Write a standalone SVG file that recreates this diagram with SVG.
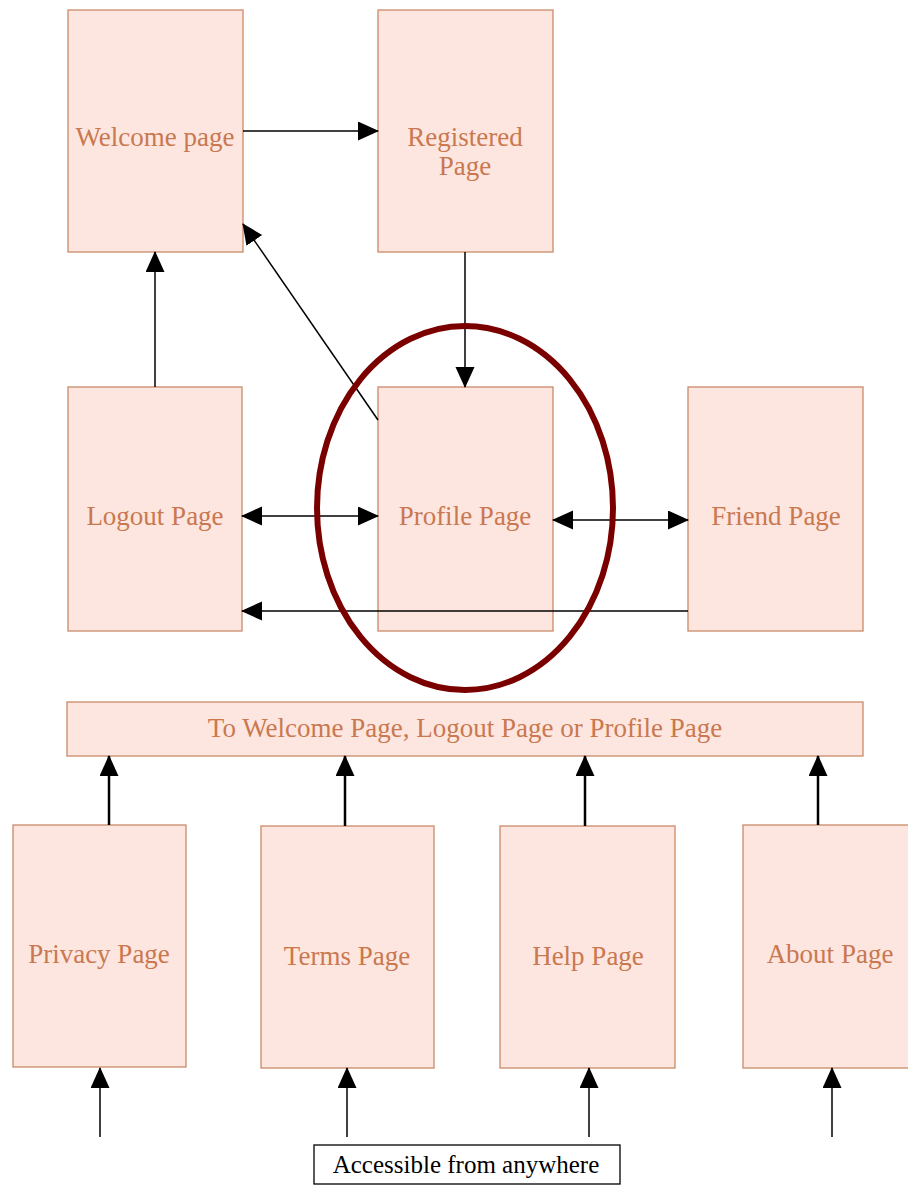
<svg xmlns="http://www.w3.org/2000/svg" width="908" height="1185" viewBox="0 0 908 1185">
<style>
.box{fill:#fde6df;stroke:#c98a68;stroke-width:1.3}
.lbl{font-family:"Liberation Serif","Times New Roman",serif;font-size:27px;fill:#c97850;text-anchor:middle}
.ln{stroke:#000;stroke-width:1.5;fill:none}
.thk{stroke:#000;stroke-width:2.5;fill:none}
.note{font-family:"Liberation Serif","Times New Roman",serif;font-size:25px;fill:#000;text-anchor:middle}
</style>
<defs>
<marker id="ah" markerUnits="userSpaceOnUse" markerWidth="22" markerHeight="20" refX="20" refY="9.5" orient="auto-start-reverse" viewBox="0 0 22 20">
<path d="M0,0 L21,9.5 L0,19 z" fill="#000"/>
</marker>
</defs>
<rect width="908" height="1185" fill="#fff"/>
<g id="welcome"><rect class="box" x="68" y="10" width="175" height="242"/><text class="lbl" x="155" y="146">Welcome page</text></g>
<g id="registered"><rect class="box" x="378" y="10" width="175" height="242"/><text class="lbl" x="465" y="146">Registered</text><text class="lbl" x="465" y="175">Page</text></g>
<g id="logout"><rect class="box" x="68" y="387" width="174" height="244"/><text class="lbl" x="155" y="525">Logout Page</text></g>
<g id="profile"><rect class="box" x="378" y="387" width="175" height="244"/><text class="lbl" x="465" y="525">Profile Page</text></g>
<g id="friend"><rect class="box" x="688" y="387" width="175" height="244"/><text class="lbl" x="776" y="525">Friend Page</text></g>
<g id="bar"><rect class="box" x="67" y="702" width="796" height="54"/><text class="lbl" x="465" y="737">To Welcome Page, Logout Page or Profile Page</text></g>
<g id="privacy"><rect class="box" x="13" y="825" width="173" height="242"/><text class="lbl" x="99" y="963">Privacy Page</text></g>
<g id="terms"><rect class="box" x="261" y="826" width="173" height="242"/><text class="lbl" x="347" y="965">Terms Page</text></g>
<g id="help"><rect class="box" x="500" y="826" width="175" height="242"/><text class="lbl" x="588" y="965">Help Page</text></g>
<g id="about"><rect class="box" x="743" y="825" width="175" height="243"/><text class="lbl" x="830" y="963">About Page</text></g>
<g id="accessible"><rect x="314" y="1145" width="306" height="39" fill="#fff" stroke="#000" stroke-width="1.3"/><text class="note" x="466" y="1173">Accessible from anywhere</text></g>
<g id="connectors">
<line class="ln" x1="243" y1="131" x2="378" y2="131" marker-end="url(#ah)"/>
<line class="ln" x1="465" y1="252" x2="465" y2="387" marker-end="url(#ah)"/>
<line class="ln" x1="378" y1="420" x2="243" y2="224" marker-end="url(#ah)"/>
<line class="ln" x1="155" y1="387" x2="155" y2="252" marker-end="url(#ah)"/>
<line class="ln" x1="242" y1="516" x2="378" y2="516" marker-start="url(#ah)" marker-end="url(#ah)"/>
<line class="ln" x1="553" y1="520" x2="688" y2="520" marker-start="url(#ah)" marker-end="url(#ah)"/>
<line class="ln" x1="688" y1="611" x2="242" y2="611" marker-end="url(#ah)"/>
<line class="thk" x1="109" y1="825" x2="109" y2="756" marker-end="url(#ah)"/>
<line class="thk" x1="345" y1="826" x2="345" y2="756" marker-end="url(#ah)"/>
<line class="thk" x1="585" y1="826" x2="585" y2="756" marker-end="url(#ah)"/>
<line class="thk" x1="818" y1="825" x2="818" y2="756" marker-end="url(#ah)"/>
<line class="ln" x1="100" y1="1137" x2="100" y2="1068" marker-end="url(#ah)"/>
<line class="ln" x1="347" y1="1137" x2="347" y2="1068" marker-end="url(#ah)"/>
<line class="ln" x1="589" y1="1137" x2="589" y2="1068" marker-end="url(#ah)"/>
<line class="ln" x1="832" y1="1137" x2="832" y2="1068" marker-end="url(#ah)"/>
</g>
<ellipse id="highlight" cx="465" cy="508" rx="148" ry="182" fill="none" stroke="#7a0000" stroke-width="6"/>
</svg>
